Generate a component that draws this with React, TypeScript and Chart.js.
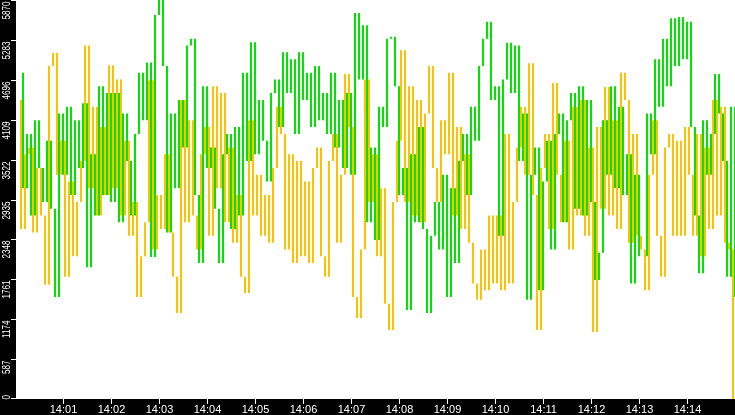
import React, { useEffect, useRef } from "react";
import { Chart, registerables } from "chart.js";

Chart.register(...registerables);

// Sample spacing in seconds (time axis starts at 14:00:00)
const SAMPLE_STEP = 5;
const MAX_SECONDS = 898.75;

// Y axis ticks
const Y_TICKS = [0, 587, 1174, 1761, 2348, 2935, 3522, 4109, 4696, 5283, 5870];
const Y_TICK_LABELS = ["0", "587", "1174", "1761", "2348", "2935", "3522", "4109", "4696", "5283", "5870"];

// X axis ticks (seconds after 14:00:00)
const X_TICK_SECONDS = [60, 120, 180, 240, 300, 360, 420, 480, 540, 600, 660, 720, 780, 840];
const X_TICK_LABELS = ["14:01", "14:02", "14:03", "14:04", "14:05", "14:06", "14:07", "14:08", "14:09", "14:10", "14:11", "14:12", "14:13", "14:14"];

// Green series (one row per minute, 12 samples each)
const GREEN_VALUES = [
  4800, 3100, 3900, 2700, 4100, 3400, 2900, 3800, 2800, 1500, 4200, 3300,
  4300, 3000, 4100, 3400, 4350, 1940, 3600, 2700, 4600, 3000, 4500, 2900,
  4500, 2600, 4200, 3500, 2700, 3900, 4800, 4100, 4950, 2090, 5650, 5870,
  4900, 2450, 4200, 3100, 4400, 3700, 5200, 5300, 3000, 2000, 4600, 3400,
  3700, 2800, 2000, 3600, 3900, 2500, 4000, 2700, 4800, 3500, 5250, 3600,
  4400, 3800, 3200, 4500, 4700, 4000, 5100, 4500, 5000, 3900, 5100, 4400,
  4800, 4000, 4900, 4100, 4500, 3900, 4800, 3700, 4400, 3400, 4500, 3300,
  5680, 4700, 5500, 2600, 3700, 2340, 4300, 4000, 5300, 5330, 4600, 3000,
  3400, 1310, 3600, 2600, 4000, 2500, 1265, 2400, 2900, 2200, 3300, 1500,
  3100, 2000, 3500, 3900, 3000, 4300, 3800, 4900, 5300, 5550, 4400, 4600,
  2400, 4700, 5240, 4500, 5200, 3500, 4200, 1460, 3300, 3700, 1600, 3200,
  3800, 2200, 3900, 4200, 2600, 4100, 4500, 2800, 4600, 2700, 4400, 2900,
  1750, 2150, 4100, 3300, 4600, 3100, 4300, 3000, 3600, 1700, 3300, 2100,
  2100, 4200, 3600, 5000, 4300, 5300, 4600, 5600, 4900, 5620, 5000, 5550,
  4000, 2700, 1850, 4100, 3300, 3900, 4780, 4200, 3500, 1800, 4300, 1500,
];

// Orange series (one row per minute, 12 samples each)
const ORANGE_VALUES = [
  4400, 2500, 3600, 3700, 2450, 3400, 2700, 1680, 4900, 5090, 3300, 3800,
  1800, 3200, 2100, 2900, 3500, 5200, 3100, 4300, 2700, 4000, 3000, 4910,
  3100, 4700, 2700, 3800, 2400, 2900, 1500, 2100, 2600, 4690, 2200, 3000,
  2500, 3600, 2450, 1800, 1265, 4400, 2600, 4100, 2700, 2200, 3600, 4000,
  2400, 4600, 3100, 4500, 2600, 3700, 2300, 3000, 1800, 1560, 4100, 2700,
  3300, 2400, 3000, 2300, 3400, 4300, 3900, 2200, 3600, 2000, 3500, 2100,
  3200, 2000, 3400, 3700, 2100, 1800, 3500, 3900, 2300, 3300, 4780, 4000,
  1500, 1190, 2200, 4700, 2900, 3600, 2100, 3100, 1400, 1015, 2900, 3800,
  5130, 2900, 4600, 2700, 4400, 2600, 4200, 4900, 3400, 2900, 4100, 3600,
  4800, 2700, 4000, 2500, 3600, 2300, 1700, 1460, 2200, 1600, 2700, 1700,
  2700, 1600, 3900, 1700, 2900, 3700, 4300, 3300, 4940, 3000, 1015, 3400,
  3900, 2500, 4650, 3300, 2600, 3800, 2200, 4300, 2700, 4400, 2400, 3700,
  985, 4000, 2800, 4590, 2700, 4100, 2500, 4800, 4400, 2300, 3900, 2400,
  2200, 1600, 3300, 4100, 2400, 1800, 3700, 3900, 2400, 3800, 2400, 4000,
  3300, 2400, 3900, 2100, 3700, 2500, 4400, 2700, 4300, 2300, 2200, 0,
];

const GREEN = "#00e400";
const ORANGE = "#ffc000";
const Y_SQUEEZE = 0.74;
const FONT = '11px "Liberation Sans", Arial, sans-serif';

// each sample is drawn as a vertical segment from the previous value to the current one
const toSegments = (vals: number[]) =>
  vals.map((v, i) => ({ x: i * SAMPLE_STEP + SAMPLE_STEP / 2, y: [i ? vals[i - 1] : v, v] }));

const axesPlugin = {
  id: "customAxes",
  beforeDraw(chart: any) {
    const { ctx, chartArea: a, width, height } = chart;
    ctx.save();
    ctx.fillStyle = "#000";
    ctx.fillRect(0, 0, width, height);
    ctx.fillStyle = "#fff";
    ctx.fillRect(a.left, a.top, a.right - a.left, a.bottom - a.top);
    ctx.restore();
  },
  afterDraw(chart: any) {
    const { ctx, chartArea: a, scales } = chart;
    const ys = scales.y;
    const xs = scales.x;
    ctx.save();
    ctx.strokeStyle = "#fff";
    ctx.fillStyle = "#fff";
    ctx.lineWidth = 1;
    ctx.font = FONT;
    Y_TICKS.forEach((v, i) => {
      const py = Math.round(ys.getPixelForValue(v));
      const ly = Math.min(py, a.bottom - 1) + 0.5;
      ctx.beginPath();
      ctx.moveTo(a.left - 5, ly);
      ctx.lineTo(a.left, ly);
      ctx.stroke();
      const label = Y_TICK_LABELS[i];
      const w = ctx.measureText(label).width * Y_SQUEEZE;
      let start = py + 1.5 + w;
      if (start > a.bottom + 0.5) start = a.bottom + 0.5;
      ctx.save();
      ctx.translate(9.5, start);
      ctx.rotate(-Math.PI / 2);
      ctx.scale(Y_SQUEEZE, 1);
      ctx.textAlign = "left";
      ctx.textBaseline = "alphabetic";
      ctx.fillText(label, 0, 0);
      ctx.restore();
    });
    X_TICK_SECONDS.forEach((s, i) => {
      const px = Math.round(xs.getPixelForValue(s)) - 0.5;
      ctx.beginPath();
      ctx.moveTo(px, a.bottom);
      ctx.lineTo(px, a.bottom + 5);
      ctx.stroke();
      ctx.textAlign = "center";
      ctx.textBaseline = "alphabetic";
      ctx.fillText(X_TICK_LABELS[i], px, a.bottom + 14);
    });
    ctx.restore();
  },
};

export default function App() {
  const ref = useRef<HTMLCanvasElement | null>(null);
  useEffect(() => {
    document.body.style.margin = "0";
    const canvas = ref.current;
    if (!canvas) return;
    const chart = new Chart(canvas, {
      type: "bar",
      data: {
        datasets: [
          {
            label: "orange",
            data: toSegments(ORANGE_VALUES) as any,
            backgroundColor: ORANGE,
            borderWidth: 0,
            barThickness: 2,
            inflateAmount: 0,
          },
          {
            label: "green",
            data: toSegments(GREEN_VALUES) as any,
            backgroundColor: GREEN,
            borderWidth: 0,
            barThickness: 2,
            inflateAmount: 0,
          },
        ],
      },
      options: {
        animation: false,
        responsive: false,
        maintainAspectRatio: false,
        layout: { padding: 0 },
        plugins: { legend: { display: false }, tooltip: { enabled: false } },
        events: [],
        scales: {
          x: {
            type: "linear",
            min: 0,
            max: MAX_SECONDS,
            offset: false,
            grid: { display: false },
            border: { display: false },
            ticks: { display: false },
            afterFit: (s: any) => {
              s.height = 16;
            },
          },
          y: {
            min: 0,
            max: 5870,
            grid: { display: false },
            border: { display: false },
            ticks: { display: false, stepSize: 587 },
            afterFit: (s: any) => {
              s.width = 16;
            },
          },
        },
      },
      plugins: [axesPlugin],
    });
    return () => chart.destroy();
  }, []);
  return (
    <div style={{ position: "fixed", left: 0, top: 0, width: 735, height: 415, background: "#000" }}>
      <canvas ref={ref} width={735} height={415} style={{ display: "block", width: 735, height: 415 }} />
    </div>
  );
}
